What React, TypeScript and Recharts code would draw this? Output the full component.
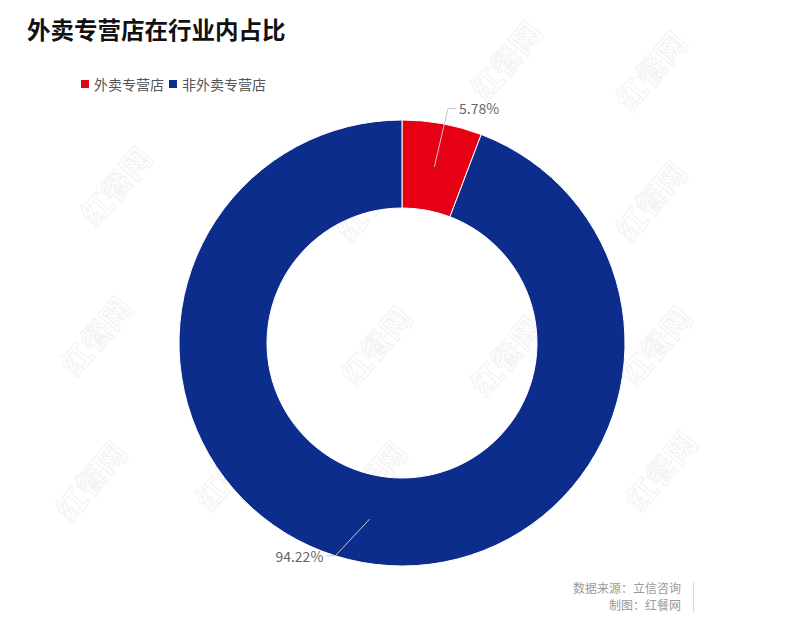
import React from "react";
import { PieChart, Pie, Cell } from "recharts";

const categories = ["外卖专营店", "非外卖专营店"];
const shares = [5.78, 94.22];
const sliceColors = ["#E50013", "#0C2D8C"];
const labelAngleShift = [-0.7, -7];
const labelRadiusExtra = [16, 0];

const titleText = "外卖专营店在行业内占比";
const sourceText = "数据来源：立信咨询";
const makerText = "制图：红餐网";
const watermarkText = "红餐网";
const watermarkSpots = [
  [505, 60], [650, 70], [115, 185], [245, 210], [650, 200],
  [95, 335], [375, 345], [505, 355], [655, 345], [90, 480], [230, 470], [505, 490],
  [660, 470], [370, 200], [370, 480],
];

const data = categories.map((name, i) => ({ name, value: shares[i] }));
const FONT = "'Noto Sans CJK SC', 'Noto Sans', sans-serif";
const RAD = Math.PI / 180;

const renderLabel = (props: any) => {
  const { cx, cy, midAngle, innerRadius, outerRadius, index, value } = props;
  const midR = (innerRadius + outerRadius) / 2;
  const sx = cx + midR * Math.cos(-midAngle * RAD);
  const sy = cy + midR * Math.sin(-midAngle * RAD);
  const right = Math.cos(-midAngle * RAD) >= 0;
  const a = midAngle + labelAngleShift[index];
  const er = outerRadius + labelRadiusExtra[index];
  const ex = cx + er * Math.cos(-a * RAD);
  const ey = cy + er * Math.sin(-a * RAD);
  const hx = ex + (right ? 8 : -9);
  return (
    <g>
      <polyline
        points={`${sx},${sy} ${ex},${ey} ${hx},${ey}`}
        fill="none"
        stroke="#c8c8c8"
        strokeWidth={1}
      />
      <text
        x={hx + (right ? 3 : -3)}
        y={ey}
        textAnchor={right ? "start" : "end"}
        dominantBaseline="central"
        fill="#666"
        fontSize={14}
        fontFamily={FONT}
      >
        {value.toFixed(2)}%
      </text>
    </g>
  );
};

export default function App() {
  return (
    <div
      style={{
        position: "absolute",
        left: 0,
        top: 0,
        width: 797,
        height: 620,
        background: "#fff",
        fontFamily: FONT,
        overflow: "hidden",
      }}
    >
      <svg width={797} height={620} style={{ position: "absolute", left: 0, top: 0 }}>
        {watermarkSpots.map(([x, y], i) => (
          <text
            key={i}
            x={x}
            y={y}
            transform={`rotate(-50 ${x} ${y})`}
            textAnchor="middle"
            dominantBaseline="central"
            fontSize={30}
            fontWeight="bold"
            fill="none"
            stroke="#f2f2f2"
            strokeWidth={1}
            fontFamily={FONT}
          >
            {watermarkText}
          </text>
        ))}
      </svg>
      <div
        style={{
          position: "absolute",
          left: 27,
          top: 14,
          fontSize: 23.5,
          fontWeight: "bold",
          color: "#111",
          lineHeight: "30px",
          whiteSpace: "nowrap",
        }}
      >
        {titleText}
      </div>
      <div
        style={{
          position: "absolute",
          left: 81,
          top: 74,
          display: "flex",
          alignItems: "center",
          fontSize: 14,
          color: "#555",
          lineHeight: "20px",
          whiteSpace: "nowrap",
        }}
      >
        {categories.map((c, i) => (
          <span key={c} style={{ display: "inline-flex", alignItems: "center", marginRight: 5 }}>
            <span
              style={{
                display: "inline-block",
                width: 8,
                height: 8,
                background: sliceColors[i],
                marginRight: 5,
              }}
            />
            {c}
          </span>
        ))}
      </div>
      <div style={{ position: "absolute", left: 0, top: 0 }}>
        <PieChart width={797} height={620} margin={{ top: 0, right: 0, bottom: 0, left: 0 }}>
          <Pie
            data={data}
            dataKey="value"
            nameKey="name"
            cx={402}
            cy={343}
            innerRadius={135}
            outerRadius={223}
            startAngle={90}
            endAngle={-270}
            stroke="#ffffff"
            strokeWidth={1}
            label={renderLabel}
            labelLine={false}
            isAnimationActive={false}
          >
            {data.map((d, i) => (
              <Cell key={d.name} fill={sliceColors[i]} />
            ))}
          </Pie>
        </PieChart>
      </div>
      <div
        style={{
          position: "absolute",
          right: 116,
          top: 580,
          width: 140,
          height: 15,
          textAlign: "right",
          fontSize: 12,
          color: "#9a9a9a",
          lineHeight: "15px",
          whiteSpace: "nowrap",
        }}
      >
        {sourceText}
      </div>
      <div
        style={{
          position: "absolute",
          right: 116,
          top: 597,
          width: 140,
          height: 15,
          textAlign: "right",
          fontSize: 12,
          color: "#9a9a9a",
          lineHeight: "15px",
          whiteSpace: "nowrap",
        }}
      >
        {makerText}
      </div>
      <div
        style={{
          position: "absolute",
          left: 693,
          top: 582,
          width: 1,
          height: 30,
          background: "#d8d8d8",
        }}
      />
    </div>
  );
}
